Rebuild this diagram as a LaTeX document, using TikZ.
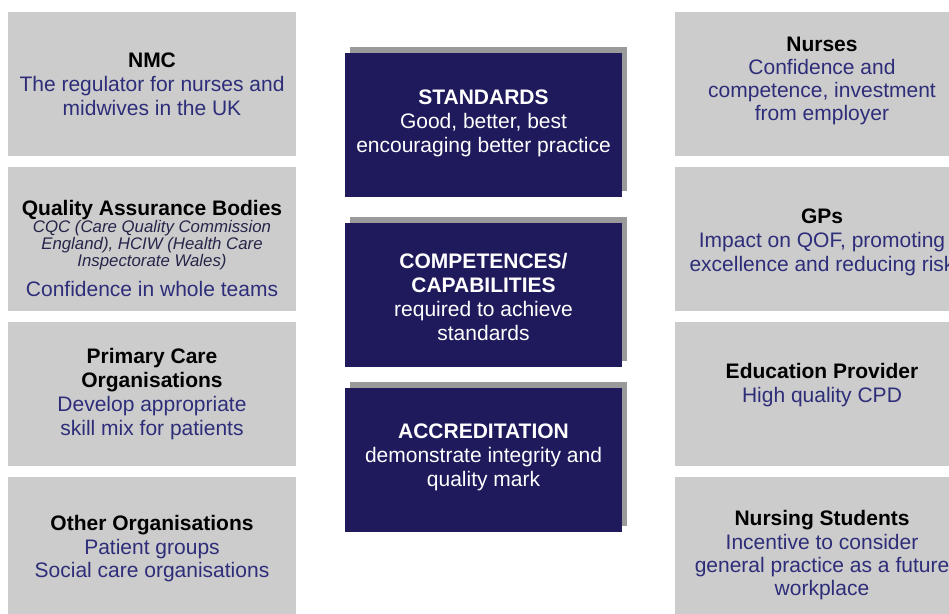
\documentclass[tikz,border=0pt]{standalone}
\usepackage{fontspec}
\setmainfont{Liberation Sans}
\definecolor{boxgray}{HTML}{CCCCCC}
\definecolor{navy}{HTML}{1F1A5C}
\definecolor{shadowgray}{HTML}{9A9A9A}
\definecolor{bodyblue}{HTML}{2D2D7A}
\definecolor{italicdark}{HTML}{25254A}
\newcommand\bodytxt[1]{\textcolor{bodyblue}{#1}}
\begin{document}
\begin{tikzpicture}[x=1pt,y=-1pt,
  graybox/.style={fill=boxgray, draw=none, minimum width=288pt, minimum height=144pt, inner sep=0pt, anchor=north west},
  rgraybox/.style={graybox, minimum width=294pt},
  navybox/.style={fill=navy, draw=none, minimum width=277pt, minimum height=144pt, inner sep=0pt, anchor=north west},
  shadowbox/.style={fill=shadowgray, draw=none, minimum width=277pt, minimum height=144pt, inner sep=0pt, anchor=north west},
  txt/.style={align=center, inner sep=0pt, font=\fontsize{21}{24}\selectfont},
  wtxt/.style={txt, text=white},
]
\clip (0,0) rectangle (949,613);
\fill[white] (0,0) rectangle (949,613);

% left column
\node[graybox] (l1) at (8,12) {};
\node[graybox] (l2) at (8,167) {};
\node[graybox] (l3) at (8,322) {};
\node[graybox] (l4) at (8,477) {};

% right column
\node[rgraybox] (r1) at (675,12) {};
\node[rgraybox] (r2) at (675,167) {};
\node[rgraybox] (r3) at (675,322) {};
\node[rgraybox] (r4) at (675,477) {};

% centre column with shadows
\node[shadowbox] (s1) at (350,47) {};
\node[navybox] (c1) at (345,53) {};
\node[shadowbox] (s2) at (350,217) {};
\node[navybox] (c2) at (345,223) {};
\node[shadowbox] (s3) at (350,382) {};
\node[navybox] (c3) at (345,388) {};

% left texts
\node[txt] (l1t) at (152,84) {\textbf{NMC}\\\bodytxt{The regulator for nurses and}\\\bodytxt{midwives in the UK}};
\node[txt] (l2t) at (152,210) {\textbf{Quality Assurance Bodies}};
\node[align=center, inner sep=0pt, text=italicdark, font=\fontsize{16.8}{15.5}\selectfont\itshape] (l2i) at (152,245) {CQC (Care Quality Commission\\England), HCIW (Health Care\\Inspectorate Wales)};
\node[txt] (l2b) at (152,288.5) {\bodytxt{Confidence in whole teams}};
\node[txt] (l3t) at (152,394.5) {\textbf{Primary Care}\\\textbf{Organisations}\\\bodytxt{Develop appropriate}\\\bodytxt{skill mix for patients}};
\node[txt, font=\fontsize{21}{23.5}\selectfont] (l4t) at (152,549) {\textbf{Other Organisations}\\\bodytxt{Patient groups}\\\bodytxt{Social care organisations}};

% centre texts
\node[wtxt] (c1t) at (483.5,123) {\textbf{STANDARDS}\\Good, better, best\\encouraging better practice};
\node[wtxt] (c2t) at (483.5,297) {\textbf{COMPETENCES/}\\\textbf{CAPABILITIES}\\required to achieve\\standards};
\node[wtxt] (c3t) at (483.5,457) {\textbf{ACCREDITATION}\\demonstrate integrity and\\quality mark};

% right texts
\node[txt, font=\fontsize{21}{23}\selectfont] (r1t) at (822,81) {\textbf{Nurses}\\\bodytxt{Confidence and}\\\bodytxt{competence, investment}\\\bodytxt{from employer}};
\node[txt] (r2t) at (822,242) {\textbf{GPs}\\\bodytxt{Impact on QOF, promoting}\\\bodytxt{excellence and reducing risk}};
\node[txt] (r3t) at (822,385) {\textbf{Education Provider}\\\bodytxt{High quality CPD}};
\node[txt, font=\fontsize{21}{23.3}\selectfont] (r4t) at (822,555.5) {\textbf{Nursing Students}\\\bodytxt{Incentive to consider}\\\bodytxt{general practice as a future}\\\bodytxt{workplace}};
\end{tikzpicture}
\end{document}
